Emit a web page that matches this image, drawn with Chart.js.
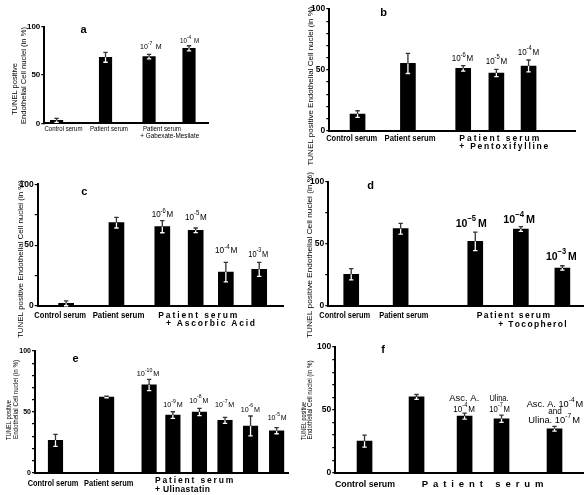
<!DOCTYPE html>
<html><head><meta charset="utf-8">
<script src="https://cdn.jsdelivr.net/npm/chart.js@4/dist/chart.umd.min.js"></script>
<style>
html,body{margin:0;padding:0;background:#fff;}
#wrap{position:relative;width:584px;height:495px;overflow:hidden;background:#fff;}
#wrap canvas{position:absolute;left:0;top:0;}
</style></head>
<body><div id="wrap"></div>
<script>
// ---------------- DATA ----------------
// Panel a : Gabexate-Mesilate
const groupsA = ['Control serum', 'Patient serum', 'Patient serum', '+ Gabexate-Mesilate'];
const valuesA = [3, 68.3, 69, 77.6];
const errorsA = [2, 5.1, 2.4, 2.7];
const expA = ['', '', '-7', '-4'];

// Panel b : Pentoxifylline
const groupsB = ['Control serum', 'Patient serum', 'Patient serum', '+ Pentoxifylline'];
const valuesB = [13.7, 55.3, 51.2, 47.4, 53.2];
const errorsB = [2.7, 8.3, 2.2, 3.0, 4.9];
const expB = ['', '', '-6', '-5', '-4'];

// Panel c : Ascorbic Acid
const groupsC = ['Control serum', 'Patient serum', 'Patient serum', '+ Ascorbic Acid'];
const valuesC = [2.2, 68.5, 65.2, 62.2, 27.9, 30.1];
const errorsC = [2, 4.4, 5.0, 1.9, 8.0, 5.8];
const expC = ['', '', '-6', '-5', '-4', '-3'];

// Panel d : Tocopherol
const groupsD = ['Control serum', 'Patient serum', 'Patient serum', '+ Tocopherol'];
const valuesD = [25.5, 62.2, 52.0, 61.9, 30.6];
const errorsD = [4.5, 4.3, 7.5, 1.9, 1.8];
const expD = ['', '', '\u22125', '\u22124', '\u22123'];

// Panel e : Ulinastatin
const groupsE = ['Control serum', 'Patient serum', 'Patient serum', '+ Ulinastatin'];
const valuesE = [26.6, 62.2, 72.1, 47.4, 49.9, 43.0, 38.4, 34.5];
const errorsE = [4.9, 0.6, 4.6, 2.7, 3.0, 2.5, 8.2, 2.5];
const expE = ['', '', '-10', '-9', '-8', '-7', '-6', '-5'];

// Panel f : combination
const groupsF = ['Control serum', 'Patient serum'];
const valuesF = [25.1, 60.3, 45.0, 42.9, 34.9];
const errorsF = [4.8, 1.9, 2.4, 2.9, 1.9];
const treatF = ['Asc. A.', 'Ulina.', 'and'];
const expF = ['', '', '-4', '-7', ''];

const yAxisTitle = 'TUNEL positive Endothelial Cell nuclei (in %)';
const yTitle1 = 'TUNEL positive';
const yTitle2 = 'Endothelial Cell nuclei (in %)';
const yTicks = [0, 50, 100];

// ---------------- DRAWING HELPERS ----------------
const FAM = "'Liberation Sans', Arial, Helvetica, sans-serif";
const W = 584, H = 495;
function fnt(size, bold){ return (bold ? 'bold ' : '') + size + 'px ' + FAM; }

function fitText(ctx, o){
  ctx.save();
  ctx.font = fnt(o.size, o.bold);
  ctx.fillStyle = '#000';
  const m = ctx.measureText(o.t).width;
  const sx = o.w ? o.w / m : 1;
  ctx.translate(o.x, o.y);
  if (o.rot) ctx.rotate(-Math.PI/2);
  ctx.scale(sx, 1);
  ctx.textAlign = 'center'; ctx.textBaseline = 'middle';
  ctx.fillText(o.t, 0, 0);
  ctx.restore();
}
function spacedText(ctx, o){
  ctx.save();
  ctx.font = fnt(o.size, o.bold);
  ctx.fillStyle = '#000';
  ctx.textAlign = 'left'; ctx.textBaseline = 'middle';
  const chars = [...o.t];
  const ws = chars.map(c => ctx.measureText(c).width);
  const tot = ws.reduce((a,b)=>a+b, 0);
  const gap = (o.w - tot) / (chars.length - 1);
  let x = o.x0;
  chars.forEach((c,i)=>{ ctx.fillText(c, x, o.y); x += ws[i] + gap; });
  ctx.restore();
}
// rich text with superscripts: segs [{t, sup}], fitted into [x0, x1]
function richText(ctx, o){
  ctx.save();
  ctx.fillStyle = '#000';
  ctx.textAlign = 'left'; ctx.textBaseline = 'middle';
  const supSize = o.size * 0.72;
  const ws = o.segs.map(s => { ctx.font = fnt(s.sup ? supSize : o.size, o.bold); return ctx.measureText(s.t).width; });
  const gap = o.gap != null ? o.gap : o.size * 0.2;
  const tot = ws.reduce((a,b)=>a+b,0) + gap;
  const sx = (o.x1 - o.x0) / tot;
  ctx.translate(o.x0, o.y);
  ctx.scale(sx, 1);
  let x = 0;
  o.segs.forEach((s,i)=>{
    ctx.font = fnt(s.sup ? supSize : o.size, o.bold);
    ctx.fillText(s.t, x, s.sup ? -o.size*0.45 : 0);
    x += ws[i];
    if (s.sup) x += gap;
  });
  ctx.restore();
}
function conc(exp, x0, x1, y, size, bold, gap){
  return {kind:'rich', segs:[{t:'10'},{t:exp, sup:true},{t:'M'}], x0, x1, y, size, bold, gap};
}

const errorBars = {
  id: 'errorBars',
  afterDatasetsDraw(chart){
    const ctx = chart.ctx, ys = chart.scales.y;
    const ds = chart.data.datasets[0];
    const meta = chart.getDatasetMeta(0);
    meta.data.forEach((bar, i) => {
      const v = ds.data[i].y, e = ds.errors[i];
      const x = bar.x, top = bar.y;
      const hi = ys.getPixelForValue(v + e);
      const lo = ys.getPixelForValue(Math.max(0, v - e));
      const cap = 2.2;
      ctx.save();
      ctx.lineWidth = 1.3;
      ctx.strokeStyle = '#333';
      ctx.beginPath();
      ctx.moveTo(x, hi); ctx.lineTo(x, top);
      ctx.moveTo(x - cap, hi); ctx.lineTo(x + cap, hi);
      ctx.stroke();
      ctx.strokeStyle = '#fff';
      ctx.beginPath();
      ctx.moveTo(x, top); ctx.lineTo(x, lo);
      ctx.moveTo(x - cap, lo); ctx.lineTo(x + cap, lo);
      ctx.stroke();
      ctx.restore();
    });
  }
};

const textLayer = {
  id: 'textLayer',
  afterDraw(chart, args, opts){
    const ctx = chart.ctx;
    (opts.items || []).forEach(o => {
      if (o.kind === 'spaced') spacedText(ctx, o);
      else if (o.kind === 'rich') richText(ctx, o);
      else fitText(ctx, o);
    });
  }
};

function makePanel(p){
  const c = document.createElement('canvas');
  c.width = W; c.height = H;
  document.getElementById('wrap').appendChild(c);
  const yW = 30;
  new Chart(c, {
    type: 'bar',
    data: { datasets: [{
      data: p.values.map((v,i) => ({x: p.xPos[i], y: v})),
      errors: p.errors,
      backgroundColor: '#000', borderWidth: 0, barThickness: p.barW
    }]},
    options: {
      responsive: false, animation: false, devicePixelRatio: 1,
      layout: { padding: { left: p.axisX - yW, top: p.yTop, right: W - p.axisRight, bottom: H - p.yBottom } },
      plugins: { legend: {display:false}, tooltip: {enabled:false}, title:{display:false},
                 textLayer: { items: p.texts } },
      scales: {
        x: { type: 'linear', min: 0, max: 100, offset: false,
             ticks: {display:false}, grid: {display:false, offset:false},
             border: {display:true, color:'#000', width:2},
             afterFit: s => { s.height = 0; } },
        y: { min: 0, max: 100,
             ticks: { stepSize: p.step, autoSkip: false, padding: 1, color: '#000',
                      font: { family: FAM, size: p.tickSize, weight: 'bold' },
                      callback: v => yTicks.includes(v) ? String(v) : '' },
             grid: { display: true, drawOnChartArea: false, drawTicks: true, tickLength: 3,
                     color: '#000', lineWidth: 1.2 },
             border: { display: true, color: '#000', width: 2 },
             afterFit: s => { s.width = yW; } }
      }
    },
    plugins: [errorBars, textLayer]
  });
}

// ---------------- PANELS ----------------
makePanel({
  values: valuesA, errors: errorsA, xPos: [7.5, 37.4, 64, 88.4], barW: 12.5, step: 50, tickSize: 8,
  axisX: 44.3, axisRight: 208, yTop: 26.7, yBottom: 123.3,
  texts: [
    {t:'a', x:83.5, y:29.5, size:11, bold:true},
    {t:yTitle1, x:15, y:89, w:52, size:8, rot:true},
    {t:yTitle2, x:23.3, y:75.5, w:97, size:8, rot:true},
    {t:groupsA[0], x:63.5, y:128.5, w:38, size:8},
    {t:groupsA[1], x:109, y:128.5, w:38, size:8},
    {t:groupsA[2], x:162, y:128.5, w:38, size:8},
    {t:groupsA[3], x:169.7, y:136, w:59, size:8},
    conc(expA[2], 140, 161.7, 46.8, 8, false, 4),
    conc(expA[3], 180, 199.3, 40.7, 8, false, 4)
  ]
});

makePanel({
  values: valuesB, errors: errorsB, xPos: [11.5, 32.0, 54.5, 68.0, 81.1], barW: 15, step: 10, tickSize: 8.5,
  axisX: 329.3, axisRight: 575, yTop: 9, yBottom: 130.7,
  texts: [
    {t:'b', x:383.7, y:13.3, size:11, bold:true},
    {t:yAxisTitle, x:310.3, y:86, w:159, size:8, rot:true},
    {t:groupsB[0], x:351.7, y:138.3, w:51, size:8.5, bold:true},
    {t:groupsB[1], x:410, y:138.3, w:51, size:8.5, bold:true},
    {kind:'spaced', t:groupsB[2], x0:459.3, w:80, y:138.3, size:8.5, bold:true},
    {kind:'spaced', t:groupsB[3], x0:459.3, w:89, y:146.7, size:8.5, bold:true},
    conc(expB[2], 451.7, 473.3, 59, 9, false, 1),
    conc(expB[3], 485.7, 507.3, 61.5, 9, false, 1),
    conc(expB[4], 517.7, 539.3, 52.5, 9, false, 1)
  ]
});

makePanel({
  values: valuesC, errors: errorsC, xPos: [11.6, 32.1, 50.8, 64.4, 76.7, 90.3], barW: 15, step: 25, tickSize: 8.5,
  axisX: 37.7, axisRight: 283, yTop: 184.3, yBottom: 306,
  texts: [
    {t:'c', x:84.2, y:192.2, size:11, bold:true},
    {t:yAxisTitle, x:20.3, y:259, w:158, size:8, rot:true},
    {t:groupsC[0], x:60.2, y:315.7, w:51.7, size:8.5, bold:true},
    {t:groupsC[1], x:118.5, y:315.7, w:51.7, size:8.5, bold:true},
    {kind:'spaced', t:groupsC[2], x0:158.3, w:79, y:315.7, size:8.5, bold:true},
    {kind:'spaced', t:groupsC[3], x0:166, w:89, y:324, size:8.5, bold:true},
    conc(expC[2], 151.7, 173.3, 215, 9, false, 1),
    conc(expC[3], 185, 206.7, 217.5, 9, false, 1),
    conc(expC[4], 215, 237.3, 251, 9, false, 1),
    conc(expC[5], 248.3, 268.3, 254.5, 9, false, 1)
  ]
});

makePanel({
  values: valuesD, errors: errorsD, xPos: [9.0, 28.4, 57.7, 75.6, 91.9], barW: 15, step: 25, tickSize: 8.5,
  axisX: 328.3, axisRight: 583, yTop: 181.7, yBottom: 306,
  texts: [
    {t:'d', x:370.5, y:186, size:11, bold:true},
    {t:yAxisTitle, x:310, y:255, w:166, size:8, rot:true},
    {t:groupsD[0], x:344.7, y:315.7, w:50.7, size:8.5, bold:true},
    {t:groupsD[1], x:403.8, y:315.7, w:49, size:8.5, bold:true},
    {kind:'spaced', t:groupsD[2], x0:476.7, w:73.3, y:315.7, size:8.5, bold:true},
    {kind:'spaced', t:groupsD[3], x0:498.3, w:68.3, y:325, size:8.5, bold:true},
    conc(expD[2], 455.7, 486.7, 224.2, 11.5, true, 2),
    conc(expD[3], 503.3, 535, 220, 11.5, true, 2),
    conc(expD[4], 546, 576.7, 257, 11.5, true, 2)
  ]
});

makePanel({
  values: valuesE, errors: errorsE, xPos: [8.1, 28.3, 45.1, 54.5, 65.0, 75.1, 85.2, 95.5], barW: 14.5, step: 10, tickSize: 7,
  axisX: 35, axisRight: 288, yTop: 351, yBottom: 472.7,
  texts: [
    {t:'e', x:75.5, y:359, size:11, bold:true},
    {t:yTitle1, x:9, y:420, w:40, size:6.5, rot:true},
    {t:yTitle2, x:15.8, y:399.5, w:79, size:6.5, rot:true},
    {t:groupsE[0], x:53, y:484, w:50.7, size:8.5, bold:true},
    {t:groupsE[1], x:108.7, y:484, w:49.3, size:8.5, bold:true},
    {kind:'spaced', t:groupsE[2], x0:155, w:78.3, y:480.7, size:8.5, bold:true},
    {kind:'spaced', t:groupsE[3], x0:155, w:55, y:489.3, size:8.5, bold:true},
    conc(expE[2], 136.7, 159.3, 373.8, 8, false, 1),
    conc(expE[3], 163.3, 182.7, 405.2, 8, false, 1),
    conc(expE[4], 189.3, 208.3, 400.5, 8, false, 1),
    conc(expE[5], 215, 234.3, 405.2, 8, false, 1),
    conc(expE[6], 240.7, 260, 409.5, 8, false, 1),
    conc(expE[7], 267.7, 286.7, 417.8, 8, false, 1)
  ]
});

makePanel({
  values: valuesF, errors: errorsF, xPos: [11.8, 32.8, 52.2, 67.1, 88.5], barW: 15, step: 10, tickSize: 8.5,
  axisX: 335.3, axisRight: 583, yTop: 347, yBottom: 472.7,
  texts: [
    {t:'f', x:383, y:350, size:11, bold:true},
    {t:yTitle1, x:304, y:421, w:38, size:6.5, rot:true},
    {t:yTitle2, x:310.5, y:400, w:79, size:6.5, rot:true},
    {t:groupsF[0], x:365, y:484, w:60, size:9.5, bold:true},
    {kind:'spaced', t:groupsF[1], x0:421.7, w:121.7, y:484, size:9.5, bold:true},
    {t:treatF[0], x:464.3, y:398.5, w:30, size:9},
    conc(expF[2], 453.3, 475, 409.5, 9, false, 1),
    {t:treatF[1], x:499, y:398.5, w:19, size:9},
    conc(expF[3], 489.3, 510, 409.5, 9, false, 1),
    {kind:'rich', segs:[{t:treatF[0] + ' 10'},{t:expF[2], sup:true},{t:'M'}], x0:526.7, x1:583.3, y:404.5, size:9, gap:1},
    {t:treatF[2], x:555, y:412, w:13.5, size:9},
    {kind:'rich', segs:[{t:treatF[1] + ' 10'},{t:expF[3], sup:true},{t:'M'}], x0:528.3, x1:580, y:420.5, size:9, gap:1}
  ]
});
</script>
</body></html>
